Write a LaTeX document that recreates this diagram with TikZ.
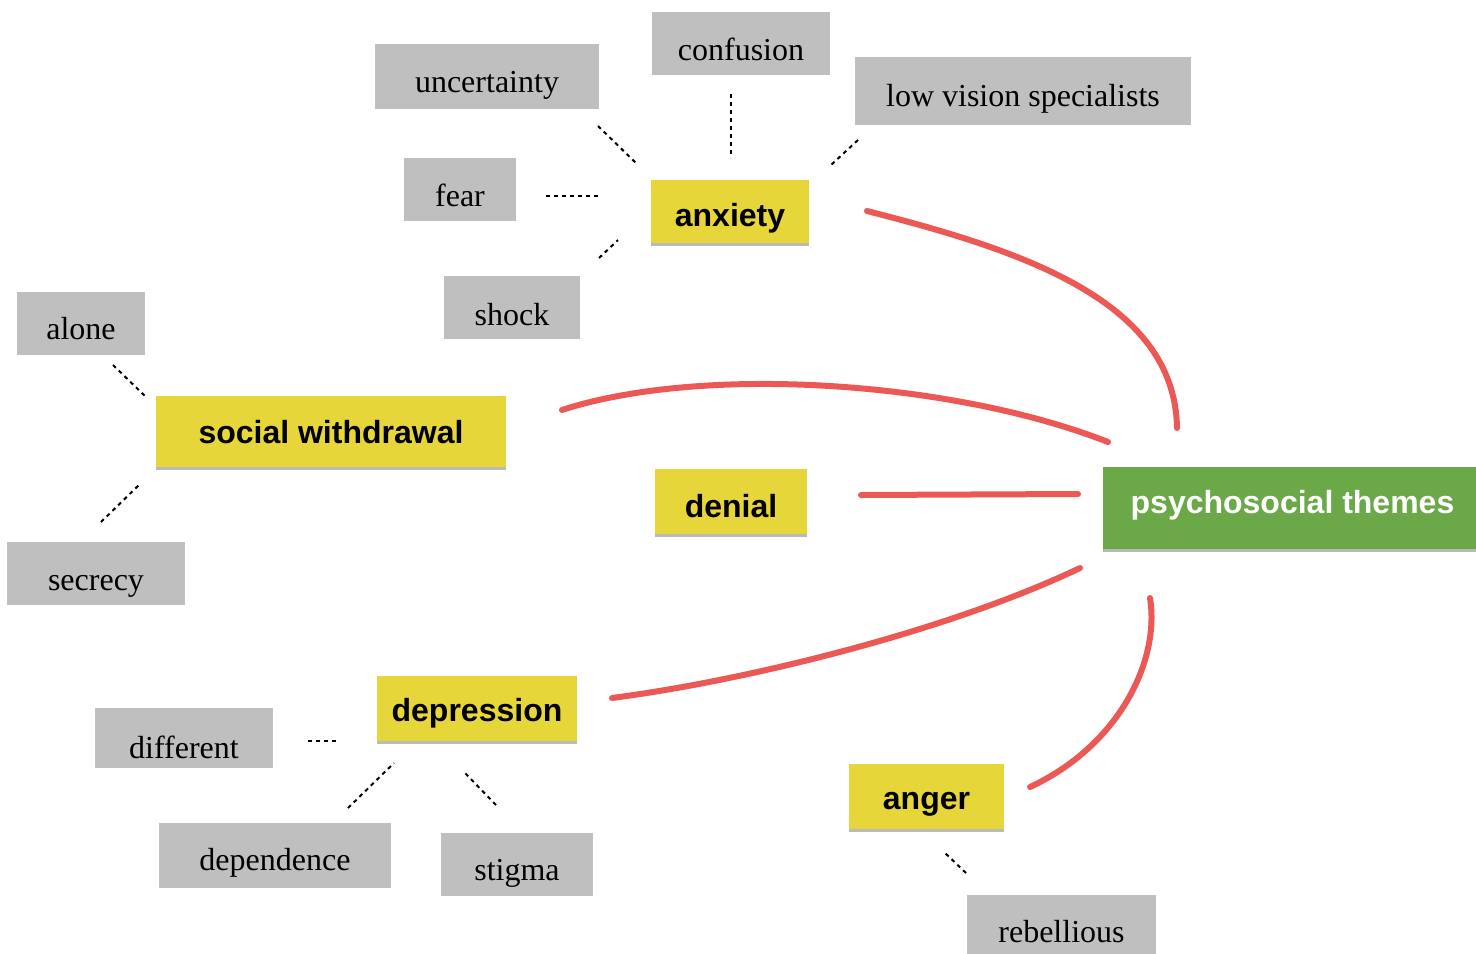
\documentclass[tikz,border=0pt]{standalone}
\usepackage{fontspec}
\setmainfont{Liberation Serif}
\setsansfont{Liberation Sans}
\usetikzlibrary{shadows}
\definecolor{boxgrey}{RGB}{191,191,191}
\definecolor{stickyyellow}{RGB}{230,214,58}
\definecolor{stickygreen}{RGB}{106,168,72}
\definecolor{linkred}{RGB}{236,88,84}
\tikzset{
  bl/.style={text height=#1pt, text depth=0pt},
  gbox/.style={fill=boxgrey, inner sep=0pt, font=\fontsize{16}{18}\selectfont},
  ybox/.style={fill=stickyyellow, inner sep=0pt, font=\sffamily\bfseries\fontsize{16}{18}\selectfont,
    drop shadow={shadow xshift=0pt, shadow yshift=-1.5pt, opacity=0.45, fill=black!60}},
  gnode/.style={fill=stickygreen, inner sep=0pt, text=white, font=\sffamily\bfseries\fontsize{16}{18}\selectfont,
    drop shadow={shadow xshift=0pt, shadow yshift=-1.5pt, opacity=0.45, fill=black!60}},
  dotlink/.style={line width=1pt, dash pattern=on 2pt off 2pt},
  redlink/.style={draw=linkred, line width=3pt, line cap=round}
}
\begin{document}
\begin{tikzpicture}[x=0.5pt,y=-0.5pt]
\useasboundingbox (0,0) rectangle (1476,953);
\clip (0,0) rectangle (1476,953);
% grey boxes
\node[gbox, bl=16.5, minimum width=89pt, minimum height=31.5pt] (confusion) at (741,43.5) {confusion};
\node[gbox, bl=15.5, minimum width=112pt, minimum height=32.5pt] (uncertainty) at (487,76.5) {uncertainty};
\node[gbox, bl=15, minimum width=168pt, minimum height=34pt] (lowvision) at (1023,91) {low vision specialists};
\node[gbox, bl=16.5, minimum width=56pt, minimum height=31.5pt] (fear) at (460,189.5) {fear};
\node[gbox, bl=17.5, minimum width=68pt, minimum height=31.5pt] (shock) at (512,307.5) {shock};
\node[gbox, bl=15.5, minimum width=64pt, minimum height=31.5pt] (alone) at (81,323.5) {alone};
\node[gbox, bl=16.5, minimum width=89pt, minimum height=31.5pt] (secrecy) at (96,573.5) {secrecy};
\node[gbox, bl=20, minimum width=89pt, minimum height=30pt] (different) at (184,738) {different};
\node[gbox, bl=14.5, minimum width=116pt, minimum height=32.5pt] (dependence) at (275,855.5) {dependence};
\node[gbox, bl=15.5, minimum width=76pt, minimum height=31.5pt] (stigma) at (517,864.5) {stigma};
\node[gbox, bl=15, minimum width=94.5pt, minimum height=32.5pt] (rebellious) at (1061.5,927) {rebellious};
% yellow boxes
\node[ybox, bl=14.5, minimum width=79pt, minimum height=31.5pt] (anxiety) at (730,211.5) {anxiety};
\node[ybox, bl=11.5, minimum width=175pt, minimum height=35.5pt] (social) at (331,431.5) {social withdrawal};
\node[ybox, bl=16, minimum width=76pt, minimum height=32.5pt] (denial) at (731,501.5) {denial};
\node[ybox, bl=13, minimum width=100pt, minimum height=32.5pt] (depression) at (477,708.5) {depression};
\node[ybox, bl=12.5, minimum width=77.5pt, minimum height=32.5pt] (anger) at (926.5,796.5) {anger};
% green box
\node[gnode, bl=5, minimum width=186.5pt, minimum height=41pt] (psych) at (1289.5,508) {\hspace*{3pt}psychosocial themes};
% dotted link ends
\coordinate (u1) at (598,126); \coordinate (u2) at (638,165);
\coordinate (c1) at (731,94);  \coordinate (c2) at (731,158);
\coordinate (l1) at (858,140); \coordinate (l2) at (831,165);
\coordinate (f1) at (546,196); \coordinate (f2) at (600,196);
\coordinate (s1) at (599,258); \coordinate (s2) at (618,240);
\coordinate (a1) at (113,365); \coordinate (a2) at (146,397);
\coordinate (r1) at (101,522); \coordinate (r2) at (141,483);
\coordinate (d1) at (308,741); \coordinate (d2) at (338,741);
\coordinate (e1) at (348,808); \coordinate (e2) at (394,763);
\coordinate (g1) at (496,805); \coordinate (g2) at (465,773);
\coordinate (b1) at (966,873); \coordinate (b2) at (944,852);
\foreach \p/\q in {u1/u2,c1/c2,l1/l2,f1/f2,s1/s2,a1/a2,r1/r2,d1/d2,e1/e2,g1/g2,b1/b2}
  \draw[dotlink] (\p) -- (\q);
% red link ends
\coordinate (ra1) at (867,211);  \coordinate (ra2) at (1177,428);
\coordinate (rs1) at (562,410);  \coordinate (rs2) at (1108,442);
\coordinate (rd1) at (861,495);  \coordinate (rd2) at (1078,494);
\coordinate (rp1) at (612,698);  \coordinate (rp2) at (1080,568);
\coordinate (rg1) at (1030,787); \coordinate (rg2) at (1150,598);
\draw[redlink] (ra1) .. controls (1020,250) and (1175,300) .. (ra2);
\draw[redlink] (rs1) .. controls (700,365) and (950,380) .. (rs2);
\draw[redlink] (rd1) -- (rd2);
\draw[redlink] (rp1) .. controls (750,680) and (950,630) .. (rp2);
\draw[redlink] (rg1) .. controls (1120,745) and (1160,660) .. (rg2);
\end{tikzpicture}
\end{document}
